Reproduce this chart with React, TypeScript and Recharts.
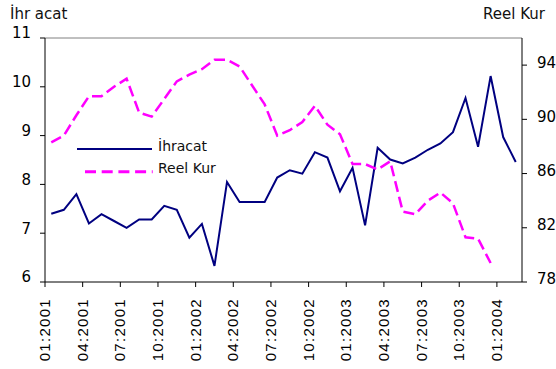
// İhracat ve reel kur, aylık (01:2001 - 02:2004), iki eksenli çizgi grafik

import { LineChart, Line, XAxis, YAxis, ReferenceLine, Legend } from 'recharts';

const months = [
  '01:2001', '02:2001', '03:2001', '04:2001', '05:2001', '06:2001',
  '07:2001', '08:2001', '09:2001', '10:2001', '11:2001', '12:2001',
  '01:2002', '02:2002', '03:2002', '04:2002', '05:2002', '06:2002',
  '07:2002', '08:2002', '09:2002', '10:2002', '11:2002', '12:2002',
  '01:2003', '02:2003', '03:2003', '04:2003', '05:2003', '06:2003',
  '07:2003', '08:2003', '09:2003', '10:2003', '11:2003', '12:2003',
  '01:2004', '02:2004',
];

const ihracat = [
  7.40, 7.48, 7.80, 7.20, 7.39, 7.25, 7.11, 7.28, 7.28, 7.56,
  7.48, 6.91, 7.19, 6.33, 8.05, 7.64, 7.64, 7.64, 8.14, 8.29,
  8.22, 8.66, 8.55, 7.86, 8.34, 7.16, 8.75, 8.51, 8.43, 8.55,
  8.71, 8.84, 9.07, 9.77, 8.77, 10.22, 8.97, 8.46,
];

const reelKur = [
  88.3, 88.8, 90.3, 91.7, 91.7, 92.4, 93.0, 90.5, 90.2, 91.5,
  92.8, 93.3, 93.7, 94.4, 94.4, 93.9, 92.5, 91.1, 88.8, 89.2,
  89.8, 91.0, 89.6, 88.9, 86.7, 86.7, 86.3, 86.9, 83.2, 83.0,
  84.0, 84.6, 83.8, 81.3, 81.2, 79.4, null, null,
];

const leftTicks = [6, 7, 8, 9, 10, 11];
const rightTicks = [78, 82, 86, 90, 94];
const monthTicks = [0, 3, 6, 9, 12, 15, 18, 21, 24, 27, 30, 33, 36];

const NAVY = '#000080';
const PINK = '#ff00ff';
const SANS = '"DejaVu Sans", Verdana, sans-serif';
const ARIAL = '"Liberation Sans", Arial, sans-serif';

// her ay kendi aralığının ortasına çizilir, etiketler ay başında
const data = months.map((month, i) => ({
  pos: i + 0.5,
  month,
  ihracat: ihracat[i],
  reelKur: reelKur[i],
}));

const MonthTick = ({ x, y, payload }: any) => (
  <text
    transform={`translate(${x + 5},${y + 9}) rotate(-90)`}
    textAnchor="end"
    fontFamily={ARIAL}
    fontSize={15}
    letterSpacing={1.3}
    fill="#000"
  >
    {months[payload.value]}
  </text>
);

const LeftTick = ({ x, y, payload }: any) => (
  <text x={x} y={y - 5} dy="0.36em" textAnchor="end" fontFamily={SANS} fontSize={15} fill="#000">
    {payload.value}
  </text>
);

const RightTick = ({ x, y, payload }: any) => (
  <text x={x} y={y - 3} dy="0.36em" textAnchor="start" fontFamily={SANS} fontSize={15} fill="#000">
    {payload.value}
  </text>
);

const renderLegend = () => (
  <svg width={160} height={54} style={{ display: 'block' }}>
    <line x1={7} y1={19} x2={82} y2={19} stroke={NAVY} strokeWidth={2} />
    <text x={88} y={21} fontFamily={SANS} fontSize={14} fill="#111">İhracat</text>
    <line x1={15} y1={41.7} x2={82.7} y2={41.7} stroke={PINK} strokeWidth={3} strokeDasharray="11 5.7" />
    <text x={88} y={43} fontFamily={SANS} fontSize={14} fill="#111">Reel Kur</text>
  </svg>
);

export default function App() {
  return (
    <div style={{ position: 'absolute', left: 0, top: 0, width: 556, height: 369, background: '#fff', overflow: 'hidden' }}>
      <LineChart width={556} height={369} data={data} margin={{ top: 38, right: 0, bottom: 0, left: 0 }}>
        <XAxis
          dataKey="pos"
          type="number"
          domain={[0, 38]}
          ticks={monthTicks}
          interval={0}
          height={87}
          tickSize={5}
          axisLine={{ stroke: '#000' }}
          tickLine={{ stroke: '#000' }}
          tick={<MonthTick />}
        />
        <YAxis
          yAxisId="left"
          domain={[6, 11]}
          ticks={leftTicks}
          width={45}
          tickSize={5}
          tickMargin={9}
          axisLine={{ stroke: '#000' }}
          tickLine={{ stroke: '#000' }}
          tick={<LeftTick />}
        />
        <YAxis
          yAxisId="right"
          orientation="right"
          domain={[78, 96]}
          ticks={rightTicks}
          width={34}
          tickSize={5}
          tickMargin={10}
          axisLine={{ stroke: '#000' }}
          tickLine={{ stroke: '#000' }}
          tick={<RightTick />}
        />
        <ReferenceLine yAxisId="left" y={11} stroke="#808080" />
        <Legend
          layout="horizontal"
          verticalAlign="middle"
          align="center"
          content={renderLegend}
          wrapperStyle={{ position: 'absolute', left: 70, top: 130, width: 160, height: 54 }}
        />
        <Line
          yAxisId="left"
          dataKey="ihracat"
          name="İhracat"
          type="linear"
          stroke={NAVY}
          strokeWidth={2}
          dot={false}
          isAnimationActive={false}
        />
        <Line
          yAxisId="right"
          dataKey="reelKur"
          name="Reel Kur"
          type="linear"
          stroke={PINK}
          strokeWidth={2.5}
          strokeDasharray="11 5"
          dot={false}
          isAnimationActive={false}
        />
      </LineChart>
      <svg width={556} height={30} style={{ position: 'absolute', left: 0, top: 0, pointerEvents: 'none' }}>
        <text x={10} y={19} fontFamily={SANS} fontSize={15} fill="#111">İhr acat</text>
        <text x={483} y={19} fontFamily={SANS} fontSize={15} fill="#111">Reel Kur</text>
      </svg>
    </div>
  );
}
